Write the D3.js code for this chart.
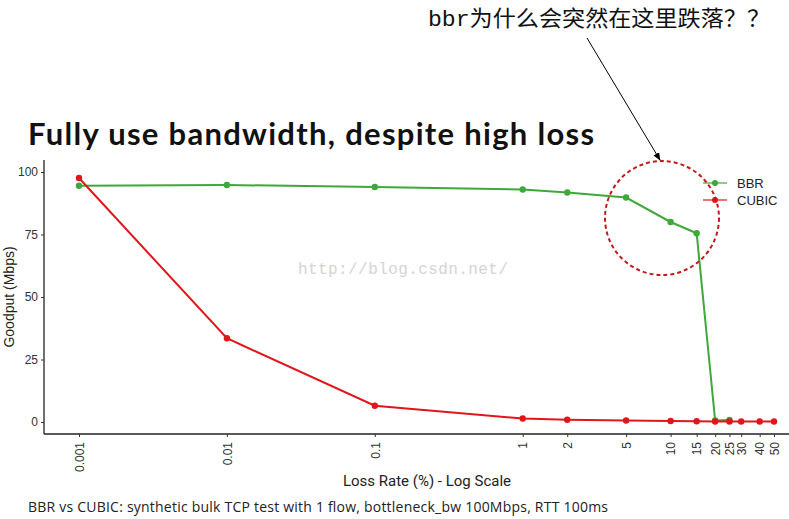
<html>
<head>
<meta charset="utf-8">
<script src="https://cdnjs.cloudflare.com/ajax/libs/d3/7.8.5/d3.min.js"></script>
<style>
  body { margin: 0; background: #fff; }
  text { font-family: "Liberation Sans", Arial, sans-serif; }
</style>
</head>
<body>
<svg width="789" height="519"></svg>
<script>
const lossRates = [0.001, 0.01, 0.1, 1, 2, 5, 10, 15, 20, 25, 30, 40, 50];
const tickLabels = ["0.001", "0.01", "0.1", "1", "2", "5", "10", "15", "20", "25", "30", "40", "50"];
const bbrValues = [94.5, 94.8, 94.0, 93.0, 91.8, 89.8, 80.0, 75.5, 0.6, 0.8];
const cubicValues = [97.6, 33.5, 6.5, 1.4, 0.9, 0.6, 0.4, 0.3, 0.2, 0.2, 0.2, 0.2, 0.2];
const yTicks = [0, 25, 50, 75, 100];
const seriesNames = ["BBR", "CUBIC"];
const seriesColors = ["#3fa83a", "#e0161b"];

const svg = d3.select("svg");

const x = d3.scaleLog().domain([0.001, 50]).range([79, 774]);
const y = d3.scaleLinear().domain([0, 100]).range([422, 172]);

// title + annotation
svg.append("text")
   .text("Fully use bandwidth, despite high loss")
   .attr("x", 28).attr("y", 145)
   .attr("font-size", 31).attr("font-weight", "bold")
   .attr("textLength", 566).attr("lengthAdjust", "spacing")
   .attr("fill", "#111")
   .attr("style", "font-family: Lato, 'Open Sans', sans-serif;");

svg.append("text")
   .text("bbr为什么会突然在这里跌落？？")
   .attr("x", 428).attr("y", 26)
   .attr("font-size", 22)
   .attr("textLength", 342).attr("lengthAdjust", "spacingAndGlyphs")
   .attr("fill", "#111")
   .attr("style", "font-family: 'Liberation Mono', 'Noto Sans CJK SC', monospace;");

svg.append("defs").append("marker")
   .attr("id", "arrow")
   .attr("viewBox", "0 0 10 10")
   .attr("refX", 9).attr("refY", 5)
   .attr("markerWidth", 8).attr("markerHeight", 8)
   .attr("orient", "auto")
   .append("path").attr("d", "M0,1L10,5L0,9Z").attr("fill", "#000");

svg.append("line")
   .attr("x1", 587).attr("y1", 38).attr("x2", 660).attr("y2", 160)
   .attr("stroke", "#000").attr("stroke-width", 1)
   .attr("marker-end", "url(#arrow)");

// watermark
svg.append("text")
   .text("http://blog.csdn.net/")
   .attr("x", 298).attr("y", 274)
   .attr("font-size", 16).attr("fill", "#d4d4d4")
   .attr("textLength", 210)
   .attr("style", "font-family: 'Liberation Mono', monospace;");

// axes
const yAxis = svg.append("g")
   .attr("transform", "translate(44,0)")
   .call(d3.axisLeft(y).tickValues(yTicks).tickSize(3).tickSizeOuter(0));
yAxis.select(".domain").attr("d", "M0,160V434").attr("stroke", "#222").attr("stroke-width", 1.3);
yAxis.selectAll("text").attr("font-size", 12).attr("fill", "#333")
   .attr("style", "font-family: 'Liberation Sans', Arial, sans-serif;");
yAxis.selectAll(".tick line").attr("stroke", "#333");

const xAxis = svg.append("g")
   .attr("transform", "translate(0,434)")
   .call(d3.axisBottom(x).tickValues(lossRates).tickFormat((d, i) => tickLabels[i]).tickSize(3).tickSizeOuter(0));
xAxis.select(".domain").attr("d", "M44,0H789").attr("stroke", "#222").attr("stroke-width", 1.3);
xAxis.selectAll(".tick line").attr("stroke", "#333");
xAxis.selectAll("text")
   .attr("font-size", 12).attr("fill", "#333")
   .attr("transform", "rotate(-90)")
   .attr("text-anchor", "end")
   .attr("x", -8).attr("y", 0).attr("dy", "0.35em")
   .attr("style", "font-family: 'Liberation Sans', Arial, sans-serif;");

svg.append("text")
   .text("Goodput (Mbps)")
   .attr("transform", "translate(14,297) rotate(-90)")
   .attr("text-anchor", "middle")
   .attr("font-size", 14).attr("fill", "#222");

svg.append("text")
   .text("Loss Rate (%) - Log Scale")
   .attr("x", 427).attr("y", 486)
   .attr("text-anchor", "middle")
   .attr("font-size", 15).attr("fill", "#222")
   .attr("style", "font-family: 'Liberation Sans Narrow', 'Roboto', sans-serif;");

svg.append("text")
   .text("BBR vs CUBIC: synthetic bulk TCP test with 1 flow, bottleneck_bw 100Mbps, RTT 100ms")
   .attr("x", 28).attr("y", 512)
   .attr("font-size", 14).attr("fill", "#222")
   .attr("textLength", 580)
   .attr("style", "font-family: 'Open Sans', sans-serif;");

// series
const line = d3.line().x(d => x(d[0])).y(d => y(d[1]));
const series = [
  bbrValues.map((v, i) => [lossRates[i], v]),
  cubicValues.map((v, i) => [lossRates[i], v])
];

series.forEach((pts, s) => {
  const g = svg.append("g");
  g.append("path")
   .attr("d", line(pts))
   .attr("fill", "none")
   .attr("stroke", seriesColors[s])
   .attr("stroke-width", 2);
  g.selectAll("circle")
   .data(pts)
   .join("circle")
   .attr("cx", d => x(d[0]))
   .attr("cy", d => y(d[1]))
   .attr("r", 3.2)
   .attr("fill", seriesColors[s]);
});

// legend
const legend = svg.append("g").attr("transform", "translate(703,183)");
seriesNames.forEach((name, i) => {
  const row = legend.append("g").attr("transform", `translate(0,${i * 17})`);
  row.append("line").attr("x1", 0).attr("x2", 24).attr("y1", 0).attr("y2", 0)
     .attr("stroke", seriesColors[i]).attr("stroke-width", 1.2);
  row.append("circle").attr("cx", 12).attr("cy", 0).attr("r", 3).attr("fill", seriesColors[i]);
  row.append("text").text(name).attr("x", 34).attr("y", 0).attr("dy", "0.35em")
     .attr("font-size", 13).attr("fill", "#222");
});

// dashed highlight circle
svg.append("circle")
   .attr("cx", 662).attr("cy", 218).attr("r", 57)
   .attr("fill", "none")
   .attr("stroke", "#c41a1a")
   .attr("stroke-width", 2)
   .attr("stroke-dasharray", "4,3");
</script>
</body>
</html>
